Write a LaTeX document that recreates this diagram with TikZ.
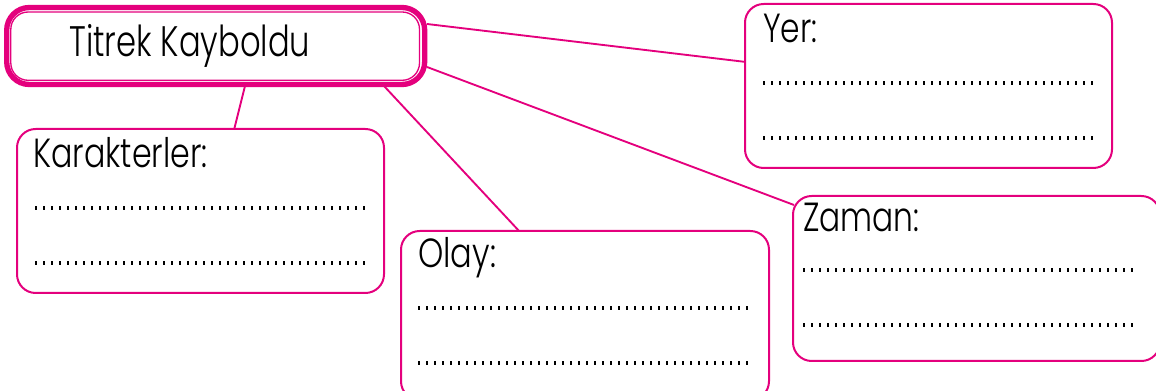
\documentclass[tikz,border=0pt]{standalone}
\usepackage{fontspec}
\setmainfont{Poppins}[UprightFont=* Light]
\usetikzlibrary{fit}
\definecolor{pk}{RGB}{228,0,125}
\begin{document}
\begin{tikzpicture}[x=0.75pt,y=-0.75pt,
  box/.style={draw=pk, line width=1.5pt, rounded corners=14pt, fill=white, inner sep=0pt},
  link/.style={draw=pk, line width=1.4pt},
  lbl/.style={anchor=base west, inner sep=0pt, font=\fontsize{30.5}{30.5}\selectfont},
  dotline/.style={line width=3pt, dash pattern=on 1.5pt off 4.5pt, black}]
\useasboundingbox (0,0) rectangle (1156,391);
% connector end points
\coordinate (tK) at (245,86);
\coordinate (kT) at (234,130);
\coordinate (tO) at (384,86);
\coordinate (oT) at (520,232);
\coordinate (tY) at (427,24);
\coordinate (yT) at (746,62);
\coordinate (tZ) at (427,67);
\coordinate (zT) at (794,205);
\draw[link] (tK) -- (kT);
\draw[link] (tO) -- (oT);
\draw[link] (tY) -- (yT);
\draw[link] (tZ) -- (zT);
% title
\node[draw=pk, line width=4pt, rounded corners=17pt, fill=white, inner sep=0pt,
      fit={(6.7,7.5) (424.7,84.5)}] (title) {};
\node[draw=pk, line width=1pt, rounded corners=13pt, inner sep=0pt,
      fit={(10.8,12) (419.5,80.3)}] (titlein) {};
\node[lbl, font=\fontsize{32}{32}\selectfont] (ttext) at (69,57) {\scalebox{0.755}[1]{Titrek Kayboldu}};
% boxes
\node[box, fit={(745,4) (1112,168)}] (yer) {};
\node[box, fit={(17,129) (384,293)}] (kar) {};
\node[box, fit={(401,231) (769,400)}] (olay) {};
\node[box, fit={(793,196) (1160,361)}] (zaman) {};
% labels
\node[lbl] (yertext) at (763,43) {\scalebox{0.77}[1]{Yer:}};
\node[lbl] (kartext) at (33,168) {\scalebox{0.78}[1]{Karakterler:}};
\node[lbl] (olaytext) at (418,268) {\scalebox{0.79}[1]{Olay:}};
\node[lbl] (zamantext) at (803,232) {\scalebox{0.77}[1]{Zaman:}};
% dotted writing lines
\draw[dotline] (763,83) -- (1094,83);
\draw[dotline] (763,138) -- (1094,138);
\draw[dotline] (35,208) -- (366,208);
\draw[dotline] (35,263) -- (366,263);
\draw[dotline] (418,308) -- (750,308);
\draw[dotline] (418,363) -- (750,363);
\draw[dotline] (803,270) -- (1135,270);
\draw[dotline] (803,325) -- (1135,325);
\end{tikzpicture}
\end{document}
